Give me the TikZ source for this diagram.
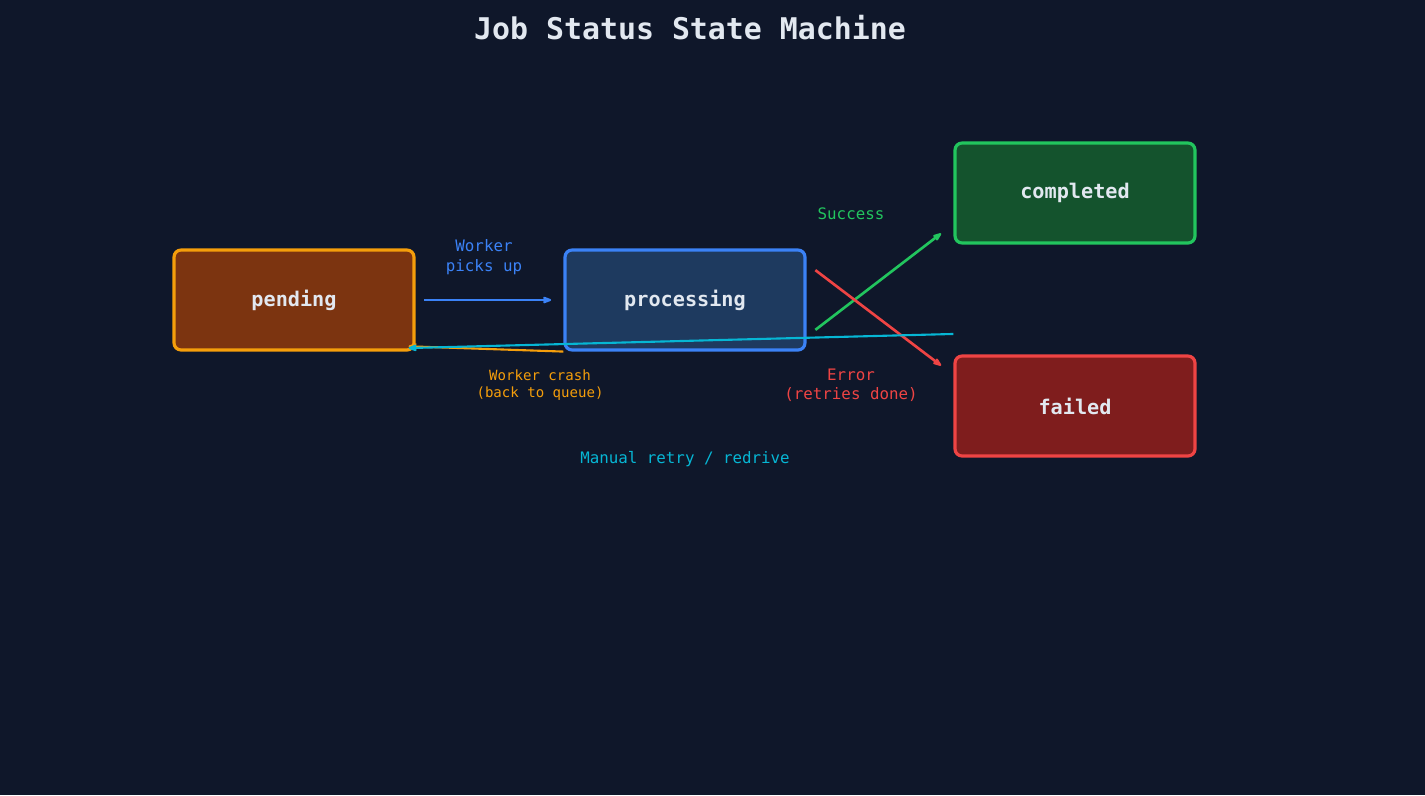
\documentclass[tikz,border=0pt]{standalone}
\usepackage{fontspec}
\setmonofont{DejaVu Sans Mono}
\usetikzlibrary{arrows.meta}
\definecolor{bgc}{HTML}{0F172A}
\definecolor{txt}{HTML}{E2E8F0}
\definecolor{penF}{HTML}{7C3410}\definecolor{penD}{HTML}{F59E0B}
\definecolor{proF}{HTML}{1E3A5F}\definecolor{proD}{HTML}{3B82F6}
\definecolor{comF}{HTML}{14532D}\definecolor{comD}{HTML}{22C55E}
\definecolor{faiF}{HTML}{7F1D1D}\definecolor{faiD}{HTML}{EF4444}
\definecolor{cyn}{HTML}{06B6D4}
\begin{document}
\begin{tikzpicture}[x=0.02cm, y=-0.02cm, font=\ttfamily,
  state/.style={rectangle, rounded corners=4pt, line width=1.8pt, minimum width=4.8cm, minimum height=2cm, text=txt, font=\ttfamily\bfseries\fontsize{11.5}{13}\selectfont},
  arrow/.style={line width=1.5pt, -{Stealth[length=7pt, open, round]}},
  lbl/.style={font=\ttfamily\fontsize{9}{11}\selectfont, align=center}]
\fill[bgc] (0,0) rectangle (1425,795);
\node (TITLE) [text=txt, font=\ttfamily\bfseries\fontsize{17}{20}\selectfont] at (690,28) {Job Status State Machine};
\node (PEND) [state, fill=penF, draw=penD] at (294,300) {pending};
\node (PROC) [state, fill=proF, draw=proD] at (685,300) {processing};
\node (COMP) [state, fill=comF, draw=comD] at (1075,193) {completed};
\node (FAIL) [state, fill=faiF, draw=faiD] at (1075,406) {failed};
\draw [arrow, proD] ([xshift=5]PEND.east) -- ([xshift=-7]PROC.west);
\draw [arrow, comD] ([xshift=5,yshift=-17]PROC.east) -- ([xshift=-7,yshift=-23]COMP.west);
\draw [arrow, faiD] ([xshift=5,yshift=17]PROC.east) -- ([xshift=-7,yshift=23]FAIL.west);
\draw [arrow, penD, line width=1.2pt] (PROC.south west) -- ([xshift=-4,yshift=3]PEND.south east);
\draw [arrow, cyn, line width=1.2pt] ([yshift=41]FAIL.west) -- ([xshift=-4,yshift=2]PEND.south east);
\node (L1) [lbl, text=proD] at (484,257) {Worker\\picks up};
\node (L2) [lbl, text=comD] at (851,214) {Success};
\node (L3) [lbl, text=faiD] at (851,385) {Error\\(retries done)};
\node (L4) [lbl, text=penD, font=\ttfamily\fontsize{8}{10}\selectfont] at (540,385) {Worker crash\\(back to queue)};
\node (L5) [lbl, text=cyn] at (685,459) {Manual retry / redrive};
\end{tikzpicture}
\end{document}
